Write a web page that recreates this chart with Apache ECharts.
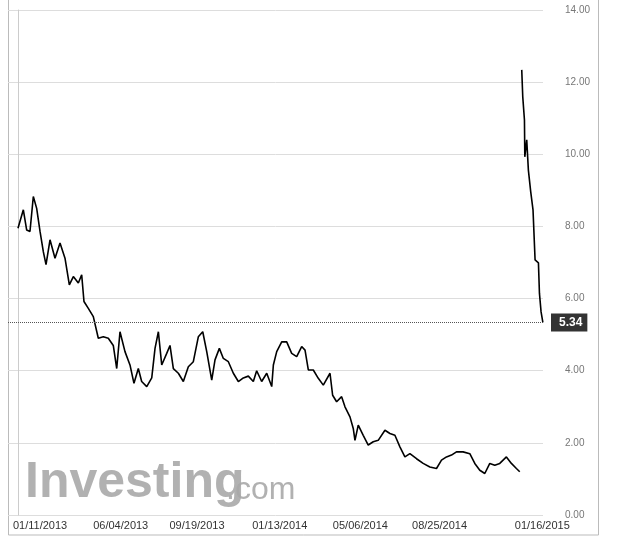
<!DOCTYPE html>
<html><head><meta charset="utf-8">
<script src="https://cdn.jsdelivr.net/npm/echarts@6/dist/echarts.min.js"></script>
<style>html,body{margin:0;padding:0;background:#fff}#c{width:640px;height:541px}</style>
</head><body><div id="c"></div>
<script>
// day offset from 01/11/2013
const days1 = [0,7.5,12.2,16.8,21.5,26.2,30.9,35.5,39.3,44.9,51.9,58.9,65.9,72,77.6,84.6,89.3,92.5,98.6,105.6,112.6,119.6,126.6,133.6,138.4,143,150,157,162.6,168.7,173.4,180.5,187.5,192.1,196.8,201.5,208.5,213.1,217.8,224.8,231.8,238.8,245.8,252.8,259,264.6,271.6,276.2,282.3,287.9,294.9,301.9,308.9,315.9,322.9,329.9,334.6,341.6,348.7,355.7,358,362.7,369.7,376.7,383.7,390.7,397.7,402.4,407,414,421,428,437.4,441.1,446.7,453.7,458.4,465.4,470,472.4,477,484,491,498,505,514.4,521.4,528.4,535.4,542.4,549.4,558.7,568,577.4,586.7,593.7,600.7,607.7,614.7,624,633.4,640.4,647.4,654.4,661.4,668.4,675.4,684.7,691.7,698.7,703.4];
const vals1 = [7.95,8.46,7.9,7.86,8.83,8.5,7.86,7.3,6.94,7.63,7.12,7.54,7.12,6.38,6.61,6.43,6.66,5.92,5.73,5.5,4.9,4.94,4.9,4.7,4.06,5.08,4.53,4.16,3.65,4.06,3.7,3.56,3.8,4.62,5.08,4.16,4.48,4.7,4.06,3.93,3.7,4.11,4.25,4.94,5.08,4.53,3.74,4.3,4.62,4.34,4.25,3.93,3.7,3.8,3.85,3.7,4.0,3.7,3.93,3.56,4.16,4.53,4.8,4.8,4.48,4.39,4.67,4.57,4.02,4.02,3.79,3.6,3.93,3.32,3.14,3.28,3.0,2.72,2.4,2.07,2.49,2.21,1.94,2.03,2.07,2.35,2.26,2.21,1.89,1.61,1.7,1.56,1.43,1.33,1.29,1.52,1.61,1.66,1.75,1.75,1.7,1.43,1.24,1.15,1.43,1.38,1.43,1.61,1.43,1.29,1.2];
const days2 = [706.2,707.6,710,710.5,713.2,715.5,718.8,722,724.9,729.6,731,733.3,735.8];
const vals2 = [12.34,11.6,10.95,9.93,10.4,9.56,8.96,8.46,7.07,6.99,6.15,5.63,5.34];
const lastValue = 5.34;
const tickDays = [31,144,251,367,480,591,735];
const tickLabels = ['01/11/2013','06/04/2013','09/19/2013','01/13/2014','05/06/2014','08/25/2014','01/16/2015'];
const yTicks = [0,2,4,6,8,10,12,14];

const s1 = days1.map((d,i)=>[d,vals1[i]]);
const s2 = days2.map((d,i)=>[d,vals2[i]]);
const chart = echarts.init(document.getElementById('c'));
chart.setOption({
  animation:false,
  grid:{left:8,right:97,top:10,bottom:26},
  xAxis:{type:'value',min:-14,max:736,
    axisLine:{show:false},axisTick:{show:false},splitLine:{show:false},
    axisLabel:{customValues:tickDays,formatter:v=>tickLabels[tickDays.indexOf(v)],color:'#333',fontSize:11,fontFamily:'Arial, Liberation Sans',margin:5,showMaxLabel:true,showMinLabel:true}},
  yAxis:{type:'value',position:'right',offset:14,min:0,max:14,interval:2,
    axisLine:{show:true,lineStyle:{color:'#ccc'}},axisTick:{show:false},
    splitLine:{show:true,lineStyle:{color:'#ddd'}},
    axisLabel:{formatter:v=>v.toFixed(2),color:'#777',fontSize:10,fontFamily:'Arial, Liberation Sans',margin:8}},
  graphic:[
    {type:'rect',shape:{x:8.5,y:-1,width:590,height:536},style:{fill:'none',stroke:'#bbb',lineWidth:1},z:-1},
    {type:'text',left:25,top:458,style:{text:'Investing',fill:'#a8a8a8',font:'bold 50px "Liberation Sans", Arial',opacity:0.9},z:-1},
    {type:'text',left:226,top:474,style:{text:'.com',fill:'#a8a8a8',font:'32px "Liberation Sans", Arial',opacity:0.9},z:-1}
  ],
  series:[
    {type:'line',data:s1,showSymbol:false,lineStyle:{color:'#000',width:1.6},z:3},
    {type:'line',data:s2,showSymbol:false,lineStyle:{color:'#000',width:1.6},z:3,
      markLine:{symbol:'none',silent:true,data:[{yAxis:lastValue,x:8}],
        lineStyle:{color:'#555',type:'dotted',width:1},
        label:{position:'end',formatter:lastValue.toFixed(2),color:'#fff',backgroundColor:'#333',fontWeight:'bold',fontSize:12,padding:[3,5,3,8],distance:8}}}
  ]
});
</script></body></html>
